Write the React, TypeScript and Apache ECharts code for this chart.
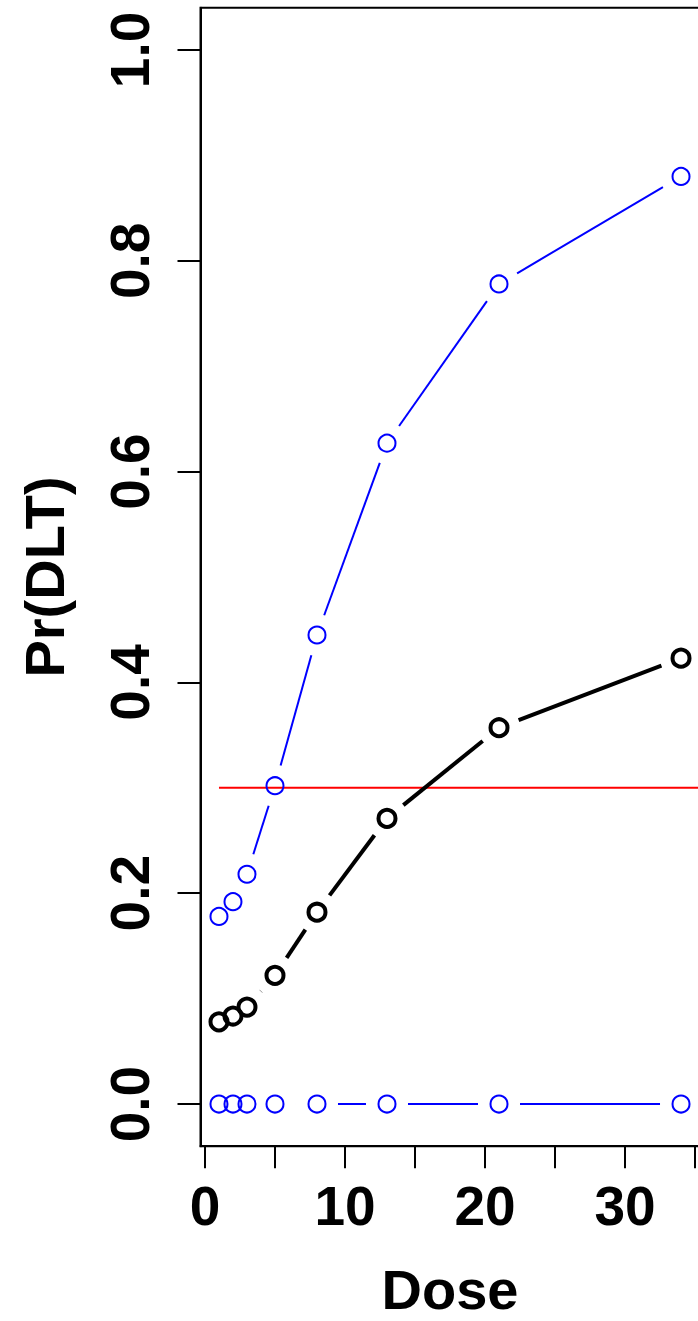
import React, { useEffect, useRef } from "react";
import * as echarts from "echarts";

const doses = [1, 2, 3, 5, 8, 13, 21, 34];
const probMean = [0.078, 0.0835, 0.092, 0.122, 0.182, 0.271, 0.357, 0.423];
const probUpper = [0.178, 0.192, 0.218, 0.302, 0.445, 0.627, 0.778, 0.88];
const probLower = [0, 0, 0, 0, 0, 0, 0, 0];
const targetTox = 0.3;
const xTicks = [0, 5, 10, 15, 20, 25, 30, 35];
const xLabels = [0, 10, 20, 30];
const yTicks = [0, 0.2, 0.4, 0.6, 0.8, 1.0];

const FONT = '"Liberation Sans", Arial, Helvetica, sans-serif';
const GAP = 21;

function segments(xs: number[], ys: number[]) {
  const out: number[][] = [];
  for (let i = 0; i < xs.length - 1; i++) out.push([xs[i], ys[i], xs[i + 1], ys[i + 1]]);
  return out;
}

function gapLine(name: string, xs: number[], ys: number[], color: string, width: number) {
  return {
    name,
    type: "custom",
    z: 3,
    clip: true,
    encode: { x: [0, 2], y: [1, 3] },
    data: segments(xs, ys),
    renderItem: (params: any, api: any) => {
      const p0 = api.coord([api.value(0), api.value(1)]);
      const p1 = api.coord([api.value(2), api.value(3)]);
      const dx = p1[0] - p0[0];
      const dy = p1[1] - p0[1];
      const len = Math.sqrt(dx * dx + dy * dy);
      if (len <= 2 * GAP) return null;
      const ux = dx / len;
      const uy = dy / len;
      return {
        type: "line",
        shape: {
          x1: p0[0] + ux * GAP,
          y1: p0[1] + uy * GAP,
          x2: p1[0] - ux * GAP,
          y2: p1[1] - uy * GAP,
        },
        style: { stroke: color, lineWidth: width, lineCap: "butt" },
      };
    },
  };
}

function points(name: string, xs: number[], ys: number[], color: string, bw: number) {
  return {
    name,
    type: "scatter",
    z: 4,
    symbol: "circle",
    symbolSize: 17,
    itemStyle: { color: "rgba(0,0,0,0)", borderColor: color, borderWidth: bw, opacity: 1 },
    emphasis: { disabled: true },
    data: xs.map((x, i) => [x, ys[i]]),
  };
}

export default function App() {
  const ref = useRef<HTMLDivElement>(null);
  useEffect(() => {
    if (!ref.current) return;
    const chart = echarts.init(ref.current, null, { renderer: "svg" });
    const xMin = -0.32;
    const xMax = 35.32;
    chart.setOption({
      animation: false,
      backgroundColor: "#ffffff",
      grid: {
        left: 200.5,
        top: 7.8,
        width: 499,
        height: 1138.4,
        show: true,
        borderColor: "#000",
        borderWidth: 2,
        backgroundColor: "transparent",
        containLabel: false,
        outerBoundsMode: "none",
      },
      xAxis: {
        type: "value",
        min: xMin,
        max: xMax,
        name: "Dose",
        nameLocation: "middle",
        nameGap: 143,
        nameTextStyle: {
          fontFamily: FONT,
          fontWeight: "bold",
          fontSize: 56,
          lineHeight: 46,
          color: "#000",
          verticalAlign: "middle",
        },
        axisLine: { show: true, onZero: false, lineStyle: { color: "#000", width: 2 } },
        axisTick: {
          show: true,
          inside: false,
          length: 22,
          customValues: xTicks,
          lineStyle: { color: "#000", width: 2 },
        },
        axisLabel: {
          show: true,
          customValues: xLabels,
          margin: 60,
          fontFamily: FONT,
          fontWeight: "bold",
          fontSize: 55,
          color: "#000",
          verticalAlign: "middle",
          formatter: (v: number) => String(v),
        },
        splitLine: { show: false },
      },
      yAxis: {
        type: "value",
        min: -0.04,
        max: 1.04,
        name: "Pr(DLT)",
        nameLocation: "middle",
        nameGap: 156,
        nameRotate: 90,
        nameTextStyle: {
          fontFamily: FONT,
          fontWeight: "bold",
          fontSize: 56,
          color: "#000",
          verticalAlign: "middle",
          align: "center",
        },
        axisLine: { show: true, onZero: false, lineStyle: { color: "#000", width: 2 } },
        axisTick: {
          show: true,
          inside: false,
          length: 23,
          customValues: yTicks,
          lineStyle: { color: "#000", width: 2 },
        },
        axisLabel: {
          show: true,
          customValues: yTicks,
          rotate: 90,
          margin: 71,
          fontFamily: FONT,
          fontWeight: "bold",
          fontSize: 55,
          color: "#000",
          align: "center",
          verticalAlign: "middle",
          formatter: (v: number) => v.toFixed(1),
        },
        splitLine: { show: false },
      },
      series: [
        {
          name: "target",
          type: "line",
          z: 2,
          symbol: "none",
          lineStyle: { color: "#ff0000", width: 2, opacity: 1 },
          emphasis: { disabled: true },
          data: [
            [doses[0], targetTox],
            [xMax, targetTox],
          ],
        },
        gapLine("upperLine", doses, probUpper, "#0000ff", 2),
        gapLine("lowerLine", doses, probLower, "#0000ff", 2),
        gapLine("meanLine", doses, probMean, "#000000", 4),
        points("upper", doses, probUpper, "#0000ff", 2),
        points("lower", doses, probLower, "#0000ff", 2),
        points("mean", doses, probMean, "#000000", 4),
      ],
    });
    return () => chart.dispose();
  }, []);
  return (
    <div
      ref={ref}
      style={{ position: "absolute", left: 0, top: 0, width: 698, height: 1321, background: "#fff" }}
    />
  );
}
